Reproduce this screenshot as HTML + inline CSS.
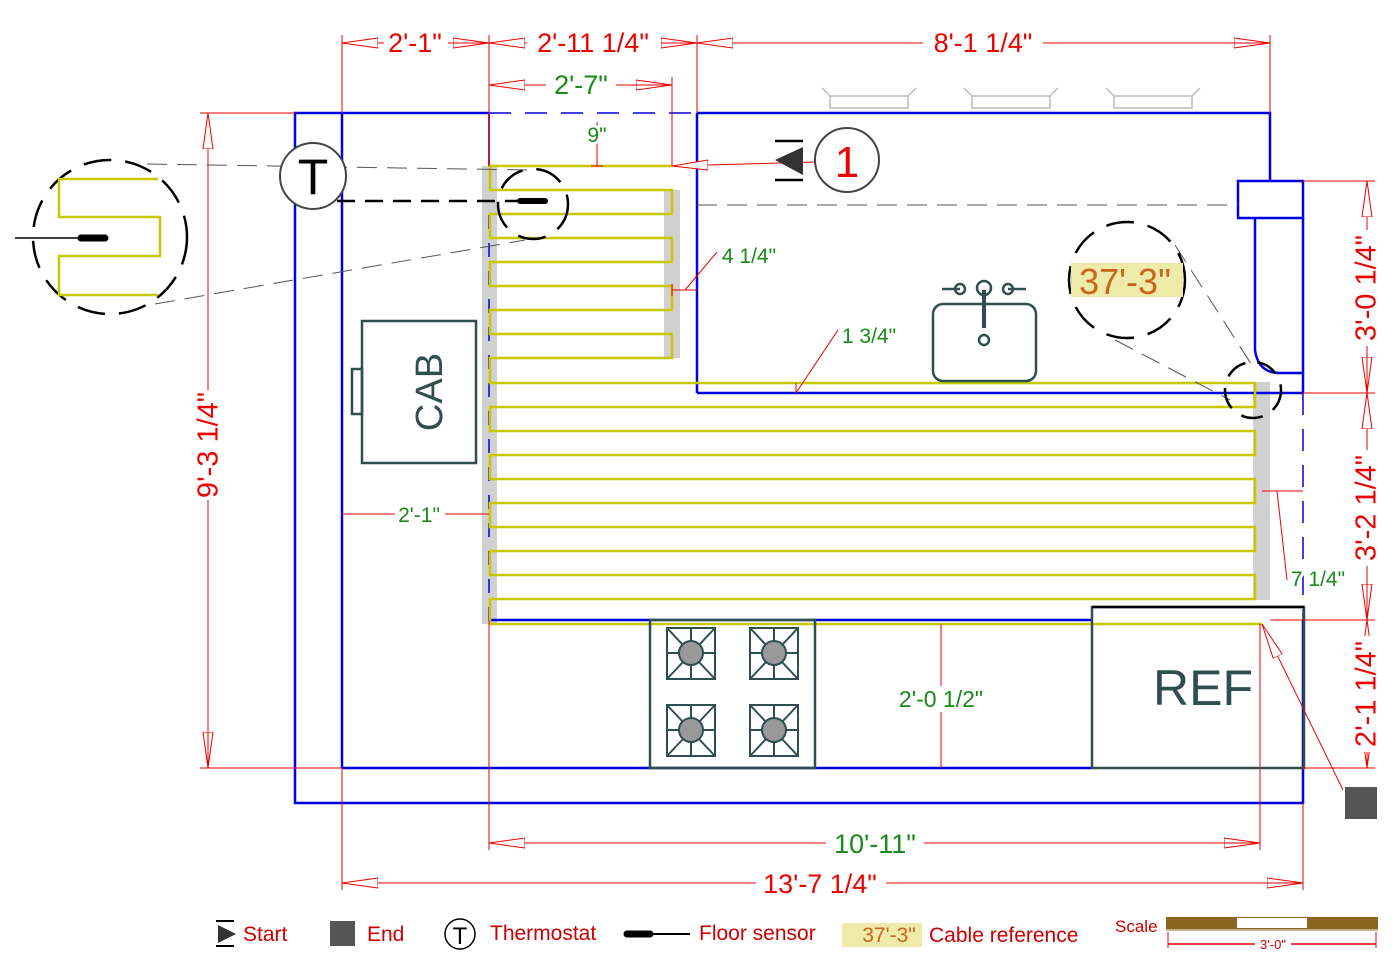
<!DOCTYPE html>
<html><head><style>html,body{margin:0;padding:0;background:#fff}svg{display:block}text{font-family:"Liberation Sans",sans-serif}</style></head><body>
<svg width="1400" height="980" viewBox="0 0 1400 980" xmlns="http://www.w3.org/2000/svg">
<defs>
<marker id="ar" markerWidth="36" markerHeight="12" refX="36" refY="6" orient="auto" markerUnits="userSpaceOnUse"><path d="M0,1 L36,6 L0,11 Z" fill="#fff" stroke="#e00" stroke-width="1"/></marker>
</defs>
<rect x="482" y="166" width="15" height="458" fill="#d0d0d0"/>
<rect x="664" y="190" width="16" height="168" fill="#d0d0d0"/>
<rect x="1253" y="382" width="17" height="218" fill="#d0d0d0"/>
<g fill="none" stroke="#0000e0" stroke-width="2.5">
<polyline points="342,113 295,113 295,803 1303,803 1303,620"/>
<line x1="342" y1="113" x2="342" y2="768"/>
<line x1="342" y1="768" x2="1092" y2="768"/>
<line x1="342" y1="113" x2="489" y2="113"/>
<line x1="489" y1="113" x2="697" y2="113" stroke-dasharray="22,14" stroke-width="1.5"/>
<polyline points="697,113 1270,113 1270,181"/>
<line x1="697" y1="113" x2="697" y2="393"/>
<line x1="697" y1="393" x2="1303" y2="393"/>
<rect x="1238" y="181" width="65" height="37"/>
<path d="M1255,218 L1255,350 Q1258,373 1280,373 L1303,373 L1303,218"/>
<line x1="1303" y1="373" x2="1303" y2="393"/>
<line x1="1303" y1="393" x2="1303" y2="620" stroke-dasharray="22,14" stroke-width="1.5"/>
<line x1="490" y1="620" x2="1092" y2="620"/>
<line x1="489" y1="215" x2="489" y2="620" stroke-dasharray="14,14" stroke-width="1.5"/>
</g>
<line x1="489" y1="113" x2="489" y2="166" stroke="#7030a0" stroke-width="2"/>
<polyline fill="none" stroke="#c8c800" stroke-width="2.5" points="672,166 490,166 490,190 672,190 672,214 490,214 490,238 672,238 672,262 490,262 490,286 672,286 672,310 490,310 490,334 672,334 672,358 490,358 490,383 1255,383 1255,407 490,407 490,431 1255,431 1255,455 490,455 490,479 1255,479 1255,503 490,503 490,527 1255,527 1255,551 490,551 490,575 1255,575 1255,599 490,599 490,624 1262,624"/>
<g fill="none" stroke="#bbb" stroke-width="1.5">
<path d="M822,88 l8,8 h78 l8,-8 M830,96 v12 h78 v-12"/>
<path d="M964,88 l8,8 h78 l8,-8 M972,96 v12 h78 v-12"/>
<path d="M1106,88 l8,8 h78 l8,-8 M1114,96 v12 h78 v-12"/>
</g>
<g fill="none" stroke="#2f4f4f" stroke-width="2.5">
<rect x="362" y="321" width="114" height="142"/>
<rect x="352" y="369" width="10" height="45"/>
<rect x="933" y="304" width="103" height="77" rx="10"/>
<rect x="650" y="620" width="165" height="148"/>
<rect x="1092" y="607" width="212" height="161"/>
</g>
<line x1="1092" y1="607" x2="1304" y2="607" stroke="#000" stroke-width="2.5"/>
<text x="432" y="392" font-size="38" fill="#2f4f4f" text-anchor="middle" transform="rotate(-90 432 392)" dominant-baseline="middle">CAB</text>
<text x="1203" y="705" font-size="50" fill="#2f4f4f" text-anchor="middle">REF</text>
<g stroke="#2f4f4f" stroke-width="2.5" fill="none">
<line x1="942" y1="289" x2="960" y2="289"/><circle cx="960" cy="289" r="5"/>
<line x1="1008" y1="289" x2="1026" y2="289"/><circle cx="1008" cy="289" r="5"/>
<circle cx="984" cy="288" r="7"/><line x1="984" y1="290" x2="984" y2="328" stroke-width="4"/>
<circle cx="984" cy="340" r="5"/>
</g>
<g stroke="#2f4f4f" stroke-width="2" fill="none">
<g id="b"><rect x="667" y="628" width="48" height="51"/><path d="M667,628 L715,679 M715,628 L667,679 M691,628 V679 M667,653 H715"/><circle cx="691" cy="653" r="12" fill="#999"/></g>
<use href="#b" x="83"/><use href="#b" y="77"/><use href="#b" x="83" y="77"/>
</g>
<g stroke="#e00" stroke-width="1" fill="none">
<path d="M342,35 V113 M489,35 V166 M697,35 V113 M1270,35 V113 M672,77 V166"/>
<line x1="342" y1="43" x2="489" y2="43" marker-end="url(#ar)"/><line x1="489" y1="43" x2="342" y2="43" marker-end="url(#ar)"/>
<line x1="489" y1="43" x2="697" y2="43" marker-end="url(#ar)"/><line x1="697" y1="43" x2="489" y2="43" marker-end="url(#ar)"/>
<line x1="697" y1="43" x2="1270" y2="43" marker-end="url(#ar)"/><line x1="1270" y1="43" x2="697" y2="43" marker-end="url(#ar)"/>
<line x1="489" y1="85" x2="672" y2="85" marker-end="url(#ar)"/><line x1="672" y1="85" x2="489" y2="85" marker-end="url(#ar)"/>
<path d="M200,113 H295 M200,768 H342"/>
<line x1="208" y1="113" x2="208" y2="768" marker-end="url(#ar)"/><line x1="208" y1="768" x2="208" y2="113" marker-end="url(#ar)"/>
<path d="M1303,181 H1375 M1303,393 H1375 M1270,620 H1375 M1303,768 H1375"/>
<line x1="1367" y1="181" x2="1367" y2="393" marker-end="url(#ar)"/><line x1="1367" y1="393" x2="1367" y2="181" marker-end="url(#ar)"/>
<line x1="1367" y1="393" x2="1367" y2="620" marker-end="url(#ar)"/><line x1="1367" y1="620" x2="1367" y2="393" marker-end="url(#ar)"/>
<line x1="1367" y1="620" x2="1367" y2="768" marker-end="url(#ar)"/><line x1="1367" y1="768" x2="1367" y2="620" marker-end="url(#ar)"/>
<path d="M489,620 V850 M1260,624 V850 M342,768 V890 M1303,803 V890"/>
<line x1="489" y1="843" x2="1260" y2="843" marker-end="url(#ar)"/><line x1="1260" y1="843" x2="489" y2="843" marker-end="url(#ar)"/>
<line x1="342" y1="883" x2="1303" y2="883" marker-end="url(#ar)"/><line x1="1303" y1="883" x2="342" y2="883" marker-end="url(#ar)"/>
<line x1="815" y1="162" x2="672" y2="166" marker-end="url(#ar)"/>
<path d="M597,122 V166 M591,166 H603"/>
<path d="M672,290 H697 M672,284 V296 M685,290 L717,252"/>
<path d="M796,383 V393 M796,393 L838,330"/>
<path d="M342,514 H489"/>
<path d="M941,624 V768"/>
<path d="M1262,491 H1303 M1277,491 L1287,580"/>
<line x1="1343" y1="790" x2="1262" y2="624" marker-end="url(#ar)"/>
</g>
<!-- text backgrounds -->
<g fill="#fff">
<rect x="384" y="30" width="64" height="28"/>
<rect x="527" y="30" width="134" height="28"/>
<rect x="923" y="30" width="120" height="28"/>
<rect x="546" y="72" width="70" height="28"/>
<rect x="826" y="830" width="98" height="28"/>
<rect x="756" y="870" width="130" height="28"/>
<rect x="194" y="390" width="32" height="110"/>
<rect x="1352" y="230" width="32" height="116"/>
<rect x="1352" y="450" width="32" height="116"/>
<rect x="1352" y="636" width="32" height="116"/>
<rect x="896" y="686" width="90" height="26"/>
<rect x="395" y="504" width="50" height="22"/>
</g>
<g font-size="27" fill="#e00" text-anchor="middle">
<text x="415" y="52">2'-1"</text>
<text x="593" y="52">2'-11 1/4"</text>
<text x="983" y="52">8'-1 1/4"</text>
<text x="820" y="893">13'-7 1/4"</text>
<text x="210" y="445" transform="rotate(-90 210 445)" dominant-baseline="middle" font-size="29">9'-3 1/4"</text>
<text x="1368" y="288" transform="rotate(-90 1368 288)" dominant-baseline="middle" font-size="29">3'-0 1/4"</text>
<text x="1368" y="508" transform="rotate(-90 1368 508)" dominant-baseline="middle" font-size="29">3'-2 1/4"</text>
<text x="1368" y="694" transform="rotate(-90 1368 694)" dominant-baseline="middle" font-size="29">2'-1 1/4"</text>
</g>
<g fill="#1a8a1a" text-anchor="middle" stroke="#fff" stroke-width="6" style="paint-order:stroke" stroke-linejoin="round">
<text x="581" y="94" font-size="27">2'-7"</text>
<text x="875" y="853" font-size="27">10'-11"</text>
<text x="597" y="142" font-size="21">9"</text>
<text x="749" y="263" font-size="21">4 1/4"</text>
<text x="869" y="343" font-size="21">1 3/4"</text>
<text x="419" y="522" font-size="21">2'-1"</text>
<text x="941" y="707" font-size="23">2'-0 1/2"</text>
<text x="1318" y="586" font-size="21">7 1/4"</text>
</g>
<path d="M775,160 L803,147 L803,175 Z" fill="#333"/><path d="M775,141 H803 M775,180 H803" stroke="#000" stroke-width="2.5"/>
<circle cx="847" cy="160" r="32" fill="none" stroke="#444" stroke-width="2"/>
<text x="847" y="177" font-size="44" fill="#e00" text-anchor="middle">1</text>
<g stroke="#555" stroke-width="1" stroke-dasharray="20,10" fill="none">
<path d="M147,164 L530,170 M155,304 L525,240"/>
<path d="M1175,245 L1255,370 M1115,340 L1230,400"/>
<path d="M697,205 H1238"/>
</g>
<circle cx="313" cy="176" r="33" fill="#fff" stroke="#444" stroke-width="2"/>
<text x="313" y="194" font-size="50" fill="#000" text-anchor="middle">T</text>
<line x1="337" y1="201" x2="520" y2="201" stroke="#000" stroke-width="2.5" stroke-dasharray="18,10"/>
<line x1="520" y1="201" x2="545" y2="201" stroke="#000" stroke-width="6" stroke-linecap="round"/>
<circle cx="533" cy="204" r="35" fill="none" stroke="#000" stroke-width="2.5" stroke-dasharray="28,14"/>
<circle cx="110" cy="237" r="77" fill="#fff" stroke="#000" stroke-width="2.5" stroke-dasharray="28,14"/>
<polyline points="158,179 59,179 59,217 160,217 160,256 59,256 59,295 158,295" fill="none" stroke="#c8c800" stroke-width="2.5"/>
<line x1="15" y1="238" x2="80" y2="238" stroke="#000" stroke-width="1.5"/>
<line x1="81" y1="238" x2="105" y2="238" stroke="#000" stroke-width="7" stroke-linecap="round"/>
<circle cx="1127" cy="280" r="58" fill="#fff" stroke="#000" stroke-width="2.5" stroke-dasharray="28,14"/>
<rect x="1071" y="263" width="112" height="34" fill="#eeeaa8"/>
<text x="1125" y="294" font-size="36" fill="#c8641e" text-anchor="middle">37'-3"</text>
<circle cx="1253" cy="390" r="28" fill="none" stroke="#000" stroke-width="2.5" stroke-dasharray="22,12"/>
<rect x="1345" y="787" width="32" height="32" fill="#555"/>
<path d="M218,925 L236,934 L218,943 Z" fill="#333"/><path d="M216,921 H234 M216,946 H234" stroke="#000" stroke-width="2"/>
<text x="243" y="941" font-size="21" fill="#c00">Start</text>
<rect x="330" y="921" width="25" height="25" fill="#555"/>
<text x="367" y="941" font-size="21" fill="#c00">End</text>
<circle cx="460" cy="934" r="15" fill="none" stroke="#000" stroke-width="1.5"/>
<text x="460" y="944" font-size="24" text-anchor="middle">T</text>
<text x="490" y="940" font-size="21" fill="#c00">Thermostat</text>
<line x1="627" y1="934" x2="650" y2="934" stroke="#000" stroke-width="7" stroke-linecap="round"/>
<line x1="650" y1="934" x2="690" y2="934" stroke="#000" stroke-width="2"/>
<text x="699" y="940" font-size="21" fill="#c00">Floor sensor</text>
<rect x="842" y="923" width="80" height="24" fill="#eeeaa8"/>
<text x="889" y="942" font-size="21" fill="#c8641e" text-anchor="middle">37'-3"</text>
<text x="929" y="942" font-size="21" fill="#c00">Cable reference</text>
<text x="1115" y="932" font-size="17" fill="#c00">Scale</text>
<rect x="1166" y="917" width="212" height="12" fill="#8b6420"/>
<rect x="1237" y="918" width="70" height="10" fill="#fff"/>
<line x1="1166" y1="930" x2="1378" y2="930" stroke="#8b6420" stroke-width="1"/>
<path d="M1168,932 V948 M1376,932 V948" stroke="#e00"/>
<line x1="1168" y1="944" x2="1376" y2="944" stroke="#e00" stroke-width="1.5"/>
<rect x="1255" y="937" width="36" height="14" fill="#fff"/>
<text x="1273" y="949" font-size="13" fill="#c00" text-anchor="middle">3'-0"</text>
</svg>
</body></html>
